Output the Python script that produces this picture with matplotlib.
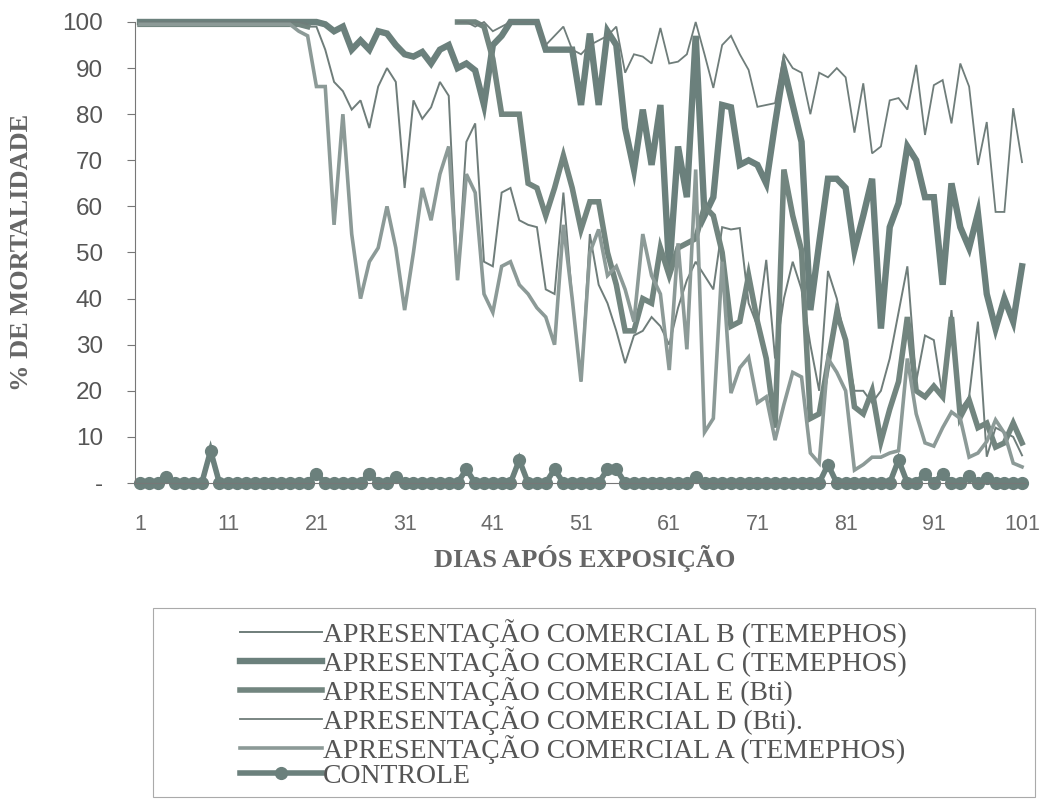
import numpy as np
import matplotlib.pyplot as plt
from matplotlib.lines import Line2D
from matplotlib.patches import Rectangle

nan = np.nan
dias = list(range(1, 102))

# APRESENTAÇÃO COMERCIAL B (TEMEPHOS)
serie_b = [99.5] * 19 + [
    99, 99, 94, 87, 85, 81, 83, 77, 86, 90, 87, 64, 83, 79, 81.5, 87, 84, 44, 74, 78,
    48, 47, 63, 64, 57, 56, 55.5, 42, 41, 63, 40, 22, 54, 43, 39, 33, 26, 32, 33, 36,
    34, 30, 38, 44, 48, 45, 42, 55.5, 55, 55.3, 39, 34, 48.4, 27, 40, 48, 42, 30, 20, 46,
    40, 30, 20, 20, 17.4, 20, 27, 37, 47, 22, 32, 31, 18.7, 37.5, 16, 18.7, 35, 5.7, 12, 11,
    10, 6]

# APRESENTAÇÃO COMERCIAL C (TEMEPHOS)
serie_c = [100] * 19 + [
    100, 100, 99.5, 98, 99, 94, 96, 94, 98, 97.5, 95, 93, 92.5, 93.5, 91, 94, 95, 90, 91, 89.5,
    82, 95, 97, 100, 100, 100, 100, 94, 94, 94, 94, 82, 97.5, 82, 98, 95, 77, 68, 81, 69,
    82, 46, 73, 62, 97, 58, 62, 82, 81.5, 69, 70, 69, 65, 78, 90, 82, 74, 37.5, 52, 66,
    66, 64, 50.5, 58, 66, 33.5, 55.5, 60.7, 73, 70, 62, 62, 43, 65, 55.5, 51, 58.5, 41, 33.5, 40,
    35, 47]

# APRESENTAÇÃO COMERCIAL E (Bti)
serie_e = [99.5] * 19 + [99] + [nan] * 16 + [
    100, 100, 100, 99, 92, 80, 80, 80, 65, 64, 58, 64, 71, 64, 55, 61, 61, 50, 43, 33,
    33, 40, 39, 51, 45, 51, 52, 53, 60, 58, 50, 34, 35, 45, 35, 27, 12, 68, 58, 50.5,
    14, 15, 26, 37, 31, 16.5, 15, 20, 9, 16, 22, 36, 20, 18.7, 21, 18.7, 36, 14.3, 18, 12,
    13, 7.8, 8.7, 13, 8.7]

# APRESENTAÇÃO COMERCIAL D (Bti).
serie_d = [100] * 19 + [99.5] + [nan] * 16 + [
    100, 100, 99, 100, 98, 99, 100, 100, 100, 100, 95, 97, 99, 94, 93, 95, 96, 97, 99, 89,
    93, 92.5, 91, 98.7, 91, 91.4, 93, 100, 93, 85.7, 95, 97, 93, 89.6, 81.6, 82, 82.4, 93, 90, 89,
    80, 89, 88, 90, 88, 76, 86.7, 71.5, 73, 83, 83.5, 81, 90.7, 75.5, 86.3, 87.4, 78, 91, 86, 69,
    78.3, 58.8, 58.8, 81.3, 69.6]

# APRESENTAÇÃO COMERCIAL A (TEMEPHOS)
serie_a = [99.5] * 18 + [
    98, 97, 86, 86, 56, 80, 54, 40, 48, 51, 60, 51, 37.5, 50, 64, 57, 67, 73, 44, 67,
    63, 41, 37, 47, 48, 43, 41, 38, 36, 30, 56, 40, 22, 50, 55, 45, 47, 42, 35, 54,
    45, 41, 24.5, 52, 29, 68, 11, 14, 48, 19.5, 25, 27.3, 17.4, 18.7, 9.3, 17, 24, 23, 6.5, 4.3,
    27, 24, 20, 2.8, 4, 5.6, 5.6, 6.5, 7, 27, 15, 8.7, 8, 12, 15.4, 14, 5.6, 6.5, 9, 13.7,
    10.8, 4.3, 3.5]

# CONTROLE
controle = [0] * 101
for d, v in [(4, 1.2), (9, 7), (21, 2), (27, 2), (30, 1.3), (38, 3), (44, 5), (48, 3),
             (54, 3), (55, 3), (64, 1.3), (79, 4), (87, 5), (90, 2), (92, 2), (95, 1.5), (97, 1)]:
    controle[d - 1] = v

nomes = ["APRESENTAÇÃO COMERCIAL B (TEMEPHOS)",
         "APRESENTAÇÃO COMERCIAL C (TEMEPHOS)",
         "APRESENTAÇÃO COMERCIAL E (Bti)",
         "APRESENTAÇÃO COMERCIAL D (Bti).",
         "APRESENTAÇÃO COMERCIAL A (TEMEPHOS)",
         "CONTROLE"]

W, H = 1039, 800
fig = plt.figure(figsize=(W / 100, H / 100), dpi=100)
ax = fig.add_axes([135 / W, 1 - 483 / H, (1026 - 135) / W, (483 - 22) / H])

dark = "#6b807c"
mid = "#72857f"
light = "#8c9a97"
thin = "#6f7d7a"

estilos = [
    dict(color=thin, lw=1.4),
    dict(color=dark, lw=4.6),
    dict(color=mid, lw=4.0),
    dict(color=thin, lw=1.3),
    dict(color=light, lw=2.6),
    dict(color=dark, lw=4.0, marker="o", ms=8.5),
]
series = [serie_b, serie_c, serie_e, serie_d, serie_a, controle]
for s, st in zip(series, estilos):
    ax.plot(dias, s, clip_on=False, solid_joinstyle="miter", **st)

ax.set_xlim(0.43, 101.45)
ax.set_ylim(0, 100)
for sp in ["top", "right"]:
    ax.spines[sp].set_visible(False)
ax.spines["left"].set_color("#777777")
ax.spines["bottom"].set_color("#777777")

ax.set_yticks(range(0, 101, 10))
ax.set_yticklabels(["-"] + [str(v) for v in range(10, 101, 10)])
ax.set_xticks(range(1, 102, 10))
ax.set_xticklabels([str(v) for v in range(1, 102, 10)])
ax.tick_params(axis="y", direction="out", length=6, color="#777777", pad=17,
               labelsize=17.5, labelcolor="#555555")
ax.tick_params(axis="x", length=0, pad=22, labelsize=15.5, labelcolor="#6a6a6a")
for t in ax.get_xticklabels() + ax.get_yticklabels():
    t.set_fontfamily("Liberation Sans")
ax.get_xticklabels()[-1].set_horizontalalignment("center")

fig.text(22 / W, 1 - 252 / H, "% DE MORTALIDADE", rotation=90, ha="center", va="center",
         family="Liberation Serif", weight="bold", size=19, color="#666666")
fig.text(585 / W, 1 - 558 / H, "DIAS APÓS EXPOSIÇÃO", ha="center", va="center",
         family="Liberation Serif", weight="bold", size=19, color="#666666")

fig.patches.append(Rectangle((153 / W, 1 - 797 / H), (1035 - 153) / W, (797 - 608) / H,
                             transform=fig.transFigure, fill=False, edgecolor="#aaaaaa", lw=0.8))

leg_handles = [Line2D([], [], **st) for st in estilos]
leg = fig.legend(leg_handles, nomes, loc="upper left", bbox_to_anchor=(240 / W, 1 - 619 / H),
                 frameon=False, prop=dict(family="Liberation Serif", size=20),
                 handlelength=2.95, handletextpad=0.05, labelspacing=0.0, borderpad=0,
                 borderaxespad=0, numpoints=1)
for t in leg.get_texts():
    t.set_color("#555555")

fig.savefig("out.png", dpi=100)
